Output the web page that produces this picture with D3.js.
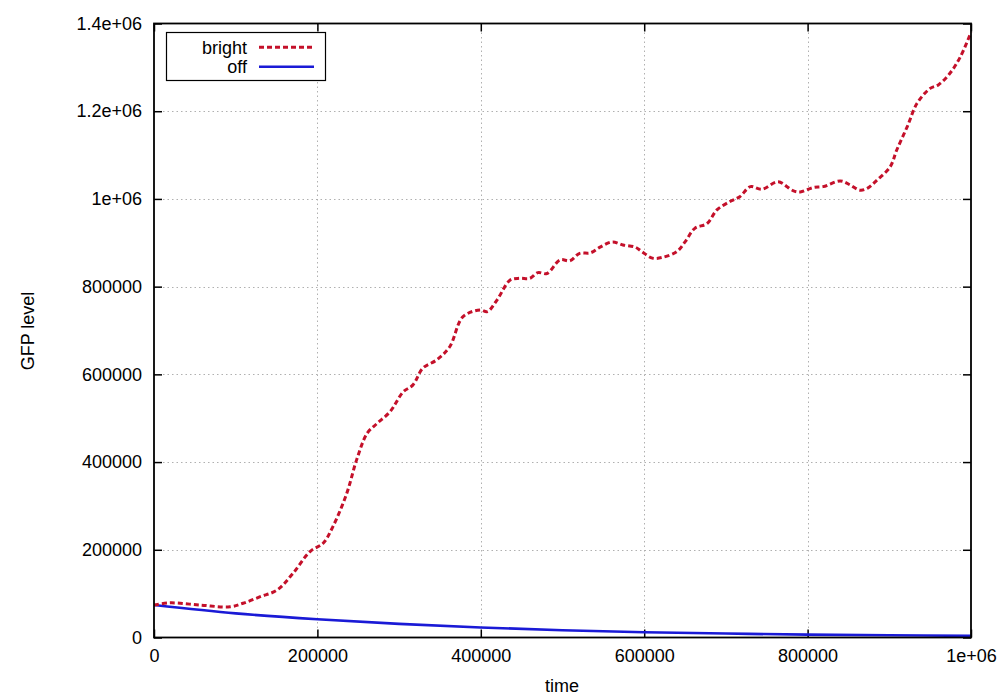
<!DOCTYPE html>
<html>
<head>
<meta charset="utf-8">
<script src="https://cdn.jsdelivr.net/npm/d3@7"></script>
<style>
html,body{margin:0;padding:0;background:#fff;}
svg{display:block;font-family:"Liberation Sans",Arial,sans-serif;}
</style>
</head>
<body>
<svg id="chart" width="1000" height="700"></svg>
<script>
// ---- data ----
const brightTime = [0,19600,56300,93000,109000,130000,150500,170000,191000,207000,219000,236000,248000,261000,273000,289000,305000,317000,329000,346000,362000,378000,399000,408000,420000,436000,448000,460000,470000,481000,497000,509000,521000,534000,546000,561000,574000,589000,597000,610000,623000,640000,650000,662000,677000,689000,705000,717000,730000,744000,764000,782000,791000,807000,819000,840000,852000,864000,873000,885000,901000,909000,922000,934000,950000,960000,974000,987000,1000000];
const brightGFP = [74000,79000,74000,70000,78000,93000,108000,146000,196000,215000,253000,329000,405000,466000,488000,515000,560000,576000,614000,633000,663000,731000,747000,743000,770000,815000,819000,819000,832000,830000,861000,859000,876000,877000,890000,902000,895000,890000,880000,865000,867000,880000,902000,933000,944000,975000,994000,1005000,1028000,1022000,1039000,1019000,1016000,1026000,1028000,1041000,1032000,1020000,1024000,1043000,1073000,1111000,1165000,1218000,1252000,1260000,1286000,1324000,1380000];
const offTime = [0,100000,200000,300000,400000,500000,600000,700000,800000,900000,1000000];
const offGFP = [74000,55000,41500,31000,22800,16500,12000,9000,6500,5000,3800];
const xTicks = [0,200000,400000,600000,800000,1000000];
const xTickLabels = ["0","200000","400000","600000","800000","1e+06"];
const yTicks = [0,200000,400000,600000,800000,1000000,1200000,1400000];
const yTickLabels = ["0","200000","400000","600000","800000","1e+06","1.2e+06","1.4e+06"];
const seriesNames = ["bright","off"];

// ---- layout ----
const L = 154, R = 971, T = 23.5, B = 637.5;
const svg = d3.select("#chart");
const x = d3.scaleLinear().domain([0,1000000]).range([L,R]);
const y = d3.scaleLinear().domain([0,1400000]).range([B,T]);

// grid
const grid = svg.append("g").attr("stroke","#b0b0b0").attr("stroke-width",1).attr("stroke-dasharray","1.5,3");
xTicks.slice(1,-1).forEach(v=>{
  grid.append("line").attr("x1",Math.round(x(v))+0.5).attr("x2",Math.round(x(v))+0.5).attr("y1",T).attr("y2",B);
});
yTicks.slice(1,-1).forEach(v=>{
  grid.append("line").attr("y1",Math.round(y(v))+0.5).attr("y2",Math.round(y(v))+0.5).attr("x1",L).attr("x2",R);
});

// axes (gnuplot style, inward ticks, mirrored)
const fs = "18px";
const xAxisB = d3.axisBottom(x).tickValues(xTicks).tickSize(-8).tickPadding(12).tickFormat((d,i)=>xTickLabels[i]);
const xAxisT = d3.axisTop(x).tickValues(xTicks).tickSize(-8).tickFormat("");
const yAxisL = d3.axisLeft(y).tickValues(yTicks).tickSize(-8).tickPadding(12).tickFormat((d,i)=>yTickLabels[i]);
const yAxisR = d3.axisRight(y).tickValues(yTicks).tickSize(-8).tickFormat("");

function styleAxis(g){
  g.select(".domain").remove();
  g.selectAll(".tick line").attr("stroke","#000").attr("stroke-width",1.5);
  g.selectAll(".tick text").attr("fill","#000").style("font-size",fs).style("font-family","Liberation Sans, Arial, sans-serif");
}
svg.append("g").attr("transform",`translate(0,${B})`).call(xAxisB).call(styleAxis);
svg.append("g").attr("transform",`translate(0,${T})`).call(xAxisT).call(styleAxis);
svg.append("g").attr("transform",`translate(${L},0)`).call(yAxisL).call(styleAxis);
svg.append("g").attr("transform",`translate(${R},0)`).call(yAxisR).call(styleAxis);

// series
const brightData = brightTime.map((t,i)=>[t,brightGFP[i]]);
const offData = offTime.map((t,i)=>[t,offGFP[i]]);
const line = d3.line().x(d=>x(d[0])).y(d=>y(d[1])).curve(d3.curveCatmullRom.alpha(0.5));
const lineM = d3.line().x(d=>x(d[0])).y(d=>y(d[1])).curve(d3.curveMonotoneX);

const plot = svg.append("g");
plot.append("path").datum(offData).attr("d",lineM).attr("fill","none")
  .attr("stroke","#1a1ad6").attr("stroke-width",2.6);
plot.append("path").datum(brightData).attr("d",line).attr("fill","none")
  .attr("stroke","#c4102a").attr("stroke-width",3).attr("stroke-dasharray","5,3");

// frame
svg.append("rect").attr("x",L).attr("y",T).attr("width",R-L).attr("height",B-T)
  .attr("fill","none").attr("stroke","#000").attr("stroke-width",1.8);

// legend
const lg = svg.append("g");
lg.append("rect").attr("x",166.5).attr("y",32.5).attr("width",159).attr("height",48)
  .attr("fill","#fff").attr("stroke","#000").attr("stroke-width",1.2);
const legendStyles = [
  {color:"#c4102a", dash:"5,3", w:3},
  {color:"#1a1ad6", dash:null, w:2.6}
];
seriesNames.forEach((n,i)=>{
  const yy = 47.3 + i*19.5;
  lg.append("text").attr("x",247).attr("y",yy).attr("dy","0.35em").attr("text-anchor","end")
    .style("font-size",fs).attr("fill","#000").text(n);
  const l = lg.append("line").attr("x1",259).attr("x2",314).attr("y1",yy).attr("y2",yy)
    .attr("stroke",legendStyles[i].color).attr("stroke-width",legendStyles[i].w);
  if(legendStyles[i].dash) l.attr("stroke-dasharray",legendStyles[i].dash);
});

// axis titles
svg.append("text").attr("x",562).attr("y",692).attr("text-anchor","middle")
  .style("font-size",fs).attr("fill","#000").text("time");
svg.append("text").attr("transform","translate(34,331) rotate(-90)").attr("text-anchor","middle")
  .style("font-size",fs).attr("fill","#000").text("GFP level");
</script>
</body>
</html>
